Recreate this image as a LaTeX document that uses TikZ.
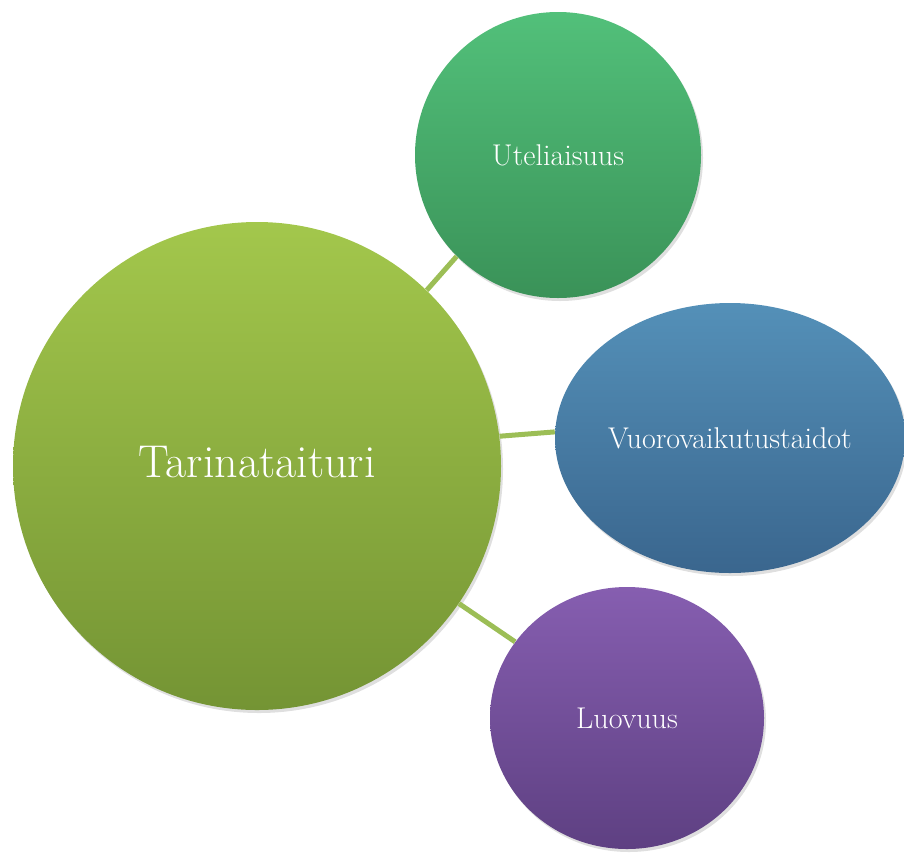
\documentclass[tikz,border=0pt]{standalone}
\usetikzlibrary{shapes.geometric,shadows}

\definecolor{olivetop}{RGB}{163,199,76}
\definecolor{olivebot}{RGB}{116,148,52}
\definecolor{greentop}{RGB}{82,192,122}
\definecolor{greenbot}{RGB}{58,146,88}
\definecolor{bluetop}{RGB}{84,144,184}
\definecolor{bluebot}{RGB}{58,102,142}
\definecolor{purptop}{RGB}{134,94,176}
\definecolor{purpbot}{RGB}{94,64,130}
\definecolor{linkcol}{RGB}{156,190,86}

\tikzset{
  bubble/.style={circle, inner sep=0pt, text=white, font=\fontsize{15}{17}\selectfont,
    drop shadow={opacity=0.25, shadow xshift=1pt, shadow yshift=-1.5pt}},
  link/.style={draw=linkcol, line width=2.5pt}
}

\begin{document}
\begin{tikzpicture}[x=0.5pt,y=-0.5pt]
  \useasboundingbox (0,0) rectangle (904,852);

  % circles
  \node[bubble, minimum size=244pt, top color=olivetop, bottom color=olivebot,
        font=\fontsize{23}{27}\selectfont] (tari) at (257,466) {\raisebox{4pt}{Tarinataituri}};
  \node[bubble, minimum size=143pt, top color=greentop, bottom color=greenbot] (uteli) at (558,155) {Uteliaisuus};
  \node[bubble, ellipse, minimum width=175pt, minimum height=135pt,
        top color=bluetop, bottom color=bluebot] (vuoro) at (730,438) {Vuorovaikutustaidot};
  \node[bubble, ellipse, minimum width=137pt, minimum height=131pt,
        top color=purptop, bottom color=purpbot] (luovu) at (627,718) {Luovuus};

  % links
  \draw[link] (tari.46) -- (uteli.225);
  \draw[link] (tari.7) -- (vuoro.178);
  \draw[link] (tari) -- (luovu);
\end{tikzpicture}
\end{document}
